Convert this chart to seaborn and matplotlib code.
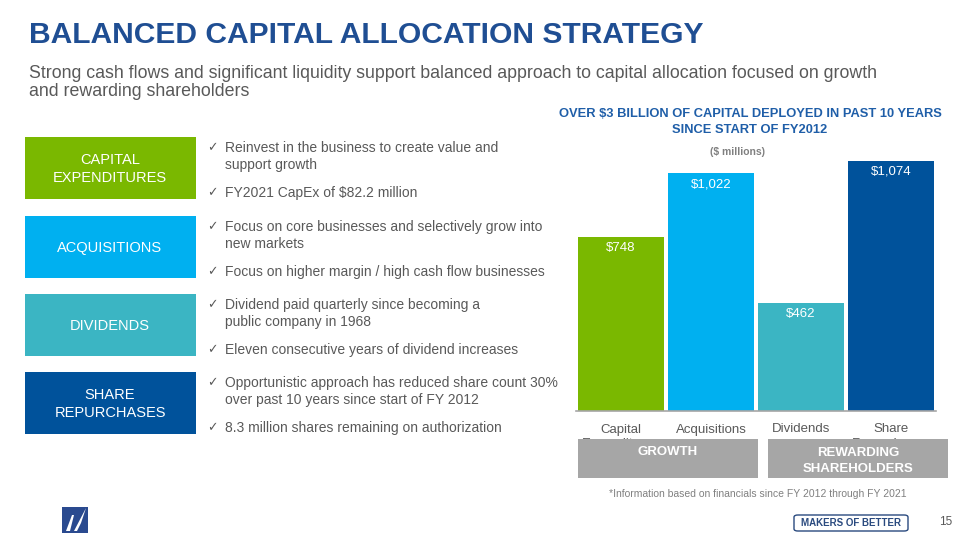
import matplotlib
matplotlib.use("Agg")
import matplotlib.pyplot as plt
import seaborn as sns
import pandas as pd
from matplotlib.patches import Rectangle, FancyBboxPatch, Polygon

# ---- data ----
categories = ["Capital\nExpenditures", "Acquisitions", "Dividends", "Share\nRepurchases"]
values = [748, 1022, 462, 1074]
value_labels = ["$748", "$1,022", "$462", "$1,074"]
bar_colors = ["#7ab800", "#00b0f0", "#3bb5c3", "#00529b"]

box_labels = ["CAPITAL\nEXPENDITURES", "ACQUISITIONS", "DIVIDENDS", "SHARE\nREPURCHASES"]
bullets = [
    [["Reinvest in the business to create value and", "support growth"], ["FY2021 CapEx of $82.2 million"]],
    [["Focus on core businesses and selectively grow into", "new markets"], ["Focus on higher margin / high cash flow businesses"]],
    [["Dividend paid quarterly since becoming a", "public company in 1968"], ["Eleven consecutive years of dividend increases"]],
    [["Opportunistic approach has reduced share count 30%", "over past 10 years since start of FY 2012"], ["8.3 million shares remaining on authorization"]],
]

title = "BALANCED CAPITAL ALLOCATION STRATEGY"
subtitle = ["Strong cash flows and significant liquidity support balanced approach to capital allocation focused on growth",
            "and rewarding shareholders"]
chart_title = ["OVER $3 BILLION OF CAPITAL DEPLOYED IN PAST 10 YEARS", "SINCE START OF FY2012"]
unit_label = "($ millions)"
group_labels = ["GROWTH", "REWARDING\nSHAREHOLDERS"]
footnote = "*Information based on financials since FY 2012 through FY 2021"

sns.set_theme(style="white")
plt.rcParams['font.family'] = ['Liberation Sans', 'DejaVu Sans']

W, H = 960, 540
fig = plt.figure(figsize=(9.6, 5.4), dpi=100)

def fx(x):
    return x / W

def fy(y):
    return 1 - y / H

GREY = "#595959"

# ---- bar chart ----
ax_left, ax_right, ax_bottom, ax_top = 576, 936, 411, 150
ax = fig.add_axes([fx(ax_left), fy(ax_bottom), fx(ax_right - ax_left), (ax_bottom - ax_top) / H])
df = pd.DataFrame({"cat": categories, "val": values})
sns.barplot(data=df, x="cat", y="val", hue="cat", palette=bar_colors, width=0.955,
            saturation=1, legend=False, ax=ax, linewidth=0)
ymax = 1074 * (ax_bottom - ax_top) / (ax_bottom - 161)
ax.set_ylim(0, ymax)
ax.set_xlim(-0.5, 3.5)
ax.set_xlabel("")
ax.set_ylabel("")
ax.set_yticks([])
for s in ["top", "right", "left"]:
    ax.spines[s].set_visible(False)
ax.spines["bottom"].set_color("#a6a6a6")
ax.spines["bottom"].set_linewidth(1.2)
ax.tick_params(axis="x", length=0, pad=9, labelsize=9.5, labelcolor=GREY)
for lbl in ax.get_xticklabels():
    lbl.set_linespacing(1.3)
px_per_unit = (ax_bottom - ax_top) / ymax
for i, (v, t) in enumerate(zip(values, value_labels)):
    ax.text(i, v - 11 / px_per_unit, t, ha="center", va="center", color="white", fontsize=9.5)

# ---- header texts ----
fig.text(fx(29), fy(35), title, fontsize=21.6, fontweight="bold", color="#1f4e93", va="center", ha="left")
fig.text(fx(29), fy(73), subtitle[0], fontsize=12.8, color=GREY, va="center", ha="left")
fig.text(fx(29), fy(92), subtitle[1], fontsize=12.8, color=GREY, va="center", ha="left")

fig.text(fx(750), fy(114), chart_title[0], fontsize=9.3, fontweight="bold", color="#1f5ea8", ha="center", va="center")
fig.text(fx(750), fy(130), chart_title[1], fontsize=9.3, fontweight="bold", color="#1f5ea8", ha="center", va="center")
fig.text(fx(738), fy(152), unit_label, fontsize=7.5, fontweight="bold", color="#808080", ha="center", va="center")

# ---- left boxes and bullets ----
box_tops = [137, 216, 294, 372]
box_h = 62
for i, (lab, col) in enumerate(zip(box_labels, bar_colors)):
    top = box_tops[i]
    fig.patches.append(Rectangle((fx(25), fy(top + box_h)), fx(196 - 25), box_h / H,
                                 transform=fig.transFigure, facecolor=col, edgecolor="none", zorder=1))
    fig.text(fx(110), fy(top + box_h / 2 + 1), lab, fontsize=10.5, color="white", ha="center", va="center",
             linespacing=1.3, zorder=2)
    b1, b2 = bullets[i]
    y1 = top + 11
    fig.text(fx(207), fy(y1), "\u2713", fontsize=9, color=GREY, ha="left", va="center")
    for j, line in enumerate(b1):
        fig.text(fx(225), fy(y1 + 17 * j), line, fontsize=10, color=GREY, ha="left", va="center")
    y2 = top + 56
    fig.text(fx(207), fy(y2), "\u2713", fontsize=9, color=GREY, ha="left", va="center")
    fig.text(fx(225), fy(y2), b2[0], fontsize=10, color=GREY, ha="left", va="center")

# ---- grey group boxes ----
for (x0, x1), lab in zip([(578, 758), (768, 948)], group_labels):
    fig.patches.append(Rectangle((fx(x0), fy(478)), fx(x1 - x0), (478 - 439) / H,
                                 transform=fig.transFigure, facecolor="#a6a6a6", edgecolor="none", zorder=3))
    fig.text(fx((x0 + x1) / 2), fy(452 if "\n" not in lab else 461), lab, fontsize=9.5, fontweight="bold",
             color="white", ha="center", va="center", linespacing=1.35, zorder=4)

fig.text(fx(758), fy(494), footnote, fontsize=7.5, color="#808080", ha="center", va="center")

# ---- footer ----
fig.patches.append(FancyBboxPatch((fx(794), fy(531)), fx(114), 16 / H,
                                  boxstyle="round,pad=0,rounding_size=0.004", transform=fig.transFigure,
                                  facecolor="white", edgecolor="#2a4a7f", linewidth=1.0, zorder=3))
fig.text(fx(851), fy(523), "MAKERS OF BETTER", fontsize=7, fontweight="bold", color="#2a4a7f",
         ha="center", va="center", zorder=4)
fig.text(fx(946), fy(522), "15", fontsize=8.5, color=GREY, ha="center", va="center")

# logo
fig.patches.append(Rectangle((fx(62), fy(533)), fx(26), 26 / H, transform=fig.transFigure,
                             facecolor="#2a4a8f", edgecolor="none", zorder=3))
fig.patches.append(Polygon([(fx(66), fy(531)), (fx(72), fy(515)), (fx(74), fy(515)), (fx(70), fy(531))],
                           closed=True, transform=fig.transFigure, facecolor="white", edgecolor="none", zorder=4))
fig.patches.append(Polygon([(fx(74), fy(531)), (fx(86), fy(508)), (fx(81), fy(523)), (fx(77), fy(531))],
                           closed=True, transform=fig.transFigure, facecolor="white", edgecolor="none", zorder=4))

fig.savefig("out.png", dpi=100)
